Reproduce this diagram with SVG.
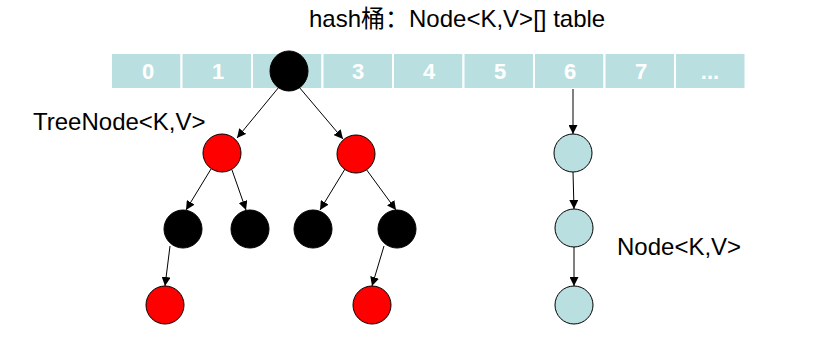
<svg xmlns="http://www.w3.org/2000/svg" width="815" height="349" viewBox="0 0 815 349">
<style>
.cell{fill:#BADFE1;stroke:#fff;stroke-width:2}
.idx{font-family:"Liberation Sans",Arial,sans-serif;font-size:22px;font-weight:bold;fill:#fff;text-anchor:middle}
.lbl{font-family:"Liberation Sans","Noto Sans CJK SC",Arial,sans-serif;font-size:24px;fill:#000}
.blk{fill:#000;stroke:#000;stroke-width:1}
.red{fill:#f00;stroke:#000;stroke-width:1}
.blu{fill:#BADFE1;stroke:#000;stroke-width:1}
.edge{stroke:#000;stroke-width:1;fill:none;marker-end:url(#ah)}
</style>
<defs>
<marker id="ah" viewBox="0 0 10 10" refX="10" refY="5" markerWidth="9" markerHeight="9" markerUnits="userSpaceOnUse" orient="auto">
<path d="M0,0 L10,5 L0,10 z" fill="#000"/>
</marker>
</defs>
<rect width="815" height="349" fill="#fff"/>
<text class="lbl" x="309" y="27">hash桶：Node&lt;K,V&gt;[] table</text>
<g id="table">
<rect class="cell" x="111" y="53" width="70.5" height="36"/>
<rect class="cell" x="181.5" y="53" width="70.5" height="36"/>
<rect class="cell" x="252" y="53" width="70.5" height="36"/>
<rect class="cell" x="322.5" y="53" width="70.5" height="36"/>
<rect class="cell" x="393" y="53" width="70.5" height="36"/>
<rect class="cell" x="463.5" y="53" width="70.5" height="36"/>
<rect class="cell" x="534" y="53" width="70.5" height="36"/>
<rect class="cell" x="604.5" y="53" width="70.5" height="36"/>
<rect class="cell" x="675" y="53" width="70.5" height="36"/>
<text class="idx" x="148" y="79">0</text>
<text class="idx" x="218" y="79">1</text>
<text class="idx" x="358" y="79">3</text>
<text class="idx" x="429" y="79">4</text>
<text class="idx" x="500" y="79">5</text>
<text class="idx" x="570" y="79">6</text>
<text class="idx" x="641" y="79">7</text>
<text class="idx" x="710" y="79">...</text>
</g>
<g id="connectors">
<line class="edge" x1="279" y1="87" x2="237" y2="138"/>
<line class="edge" x1="299" y1="87" x2="343" y2="139"/>
<line class="edge" x1="211" y1="169" x2="186" y2="210"/>
<line class="edge" x1="232" y1="170" x2="246" y2="210"/>
<line class="edge" x1="345" y1="169" x2="320" y2="210"/>
<line class="edge" x1="366" y1="169" x2="396" y2="210"/>
<line class="edge" x1="170" y1="246" x2="165" y2="286"/>
<line class="edge" x1="384" y1="246" x2="372" y2="286"/>
<line class="edge" x1="573" y1="89" x2="573" y2="134"/>
<line class="edge" x1="573" y1="172" x2="574" y2="209"/>
<line class="edge" x1="574" y1="247" x2="574" y2="286"/>
</g>
<g id="root"><ellipse class="blk" cx="289" cy="71" rx="19" ry="20"/></g>
<g id="r1"><circle class="red" cx="222" cy="153" r="19"/></g>
<g id="r2"><circle class="red" cx="356" cy="154" r="19"/></g>
<g id="b1"><circle class="blk" cx="183" cy="229" r="19"/></g>
<g id="b2"><circle class="blk" cx="250" cy="229" r="19"/></g>
<g id="b3"><circle class="blk" cx="313" cy="229" r="19"/></g>
<g id="b4"><circle class="blk" cx="397" cy="229" r="19"/></g>
<g id="r3"><circle class="red" cx="165" cy="305" r="19"/></g>
<g id="r4"><circle class="red" cx="372" cy="305" r="19"/></g>
<g id="n1"><circle class="blu" cx="573" cy="153" r="19"/></g>
<g id="n2"><circle class="blu" cx="574" cy="228" r="19"/></g>
<g id="n3"><circle class="blu" cx="574" cy="305" r="19"/></g>
<text id="treenode-label" class="lbl" x="33" y="130">TreeNode&lt;K,V&gt;</text>
<text id="node-label" class="lbl" x="617" y="255">Node&lt;K,V&gt;</text>
</svg>
